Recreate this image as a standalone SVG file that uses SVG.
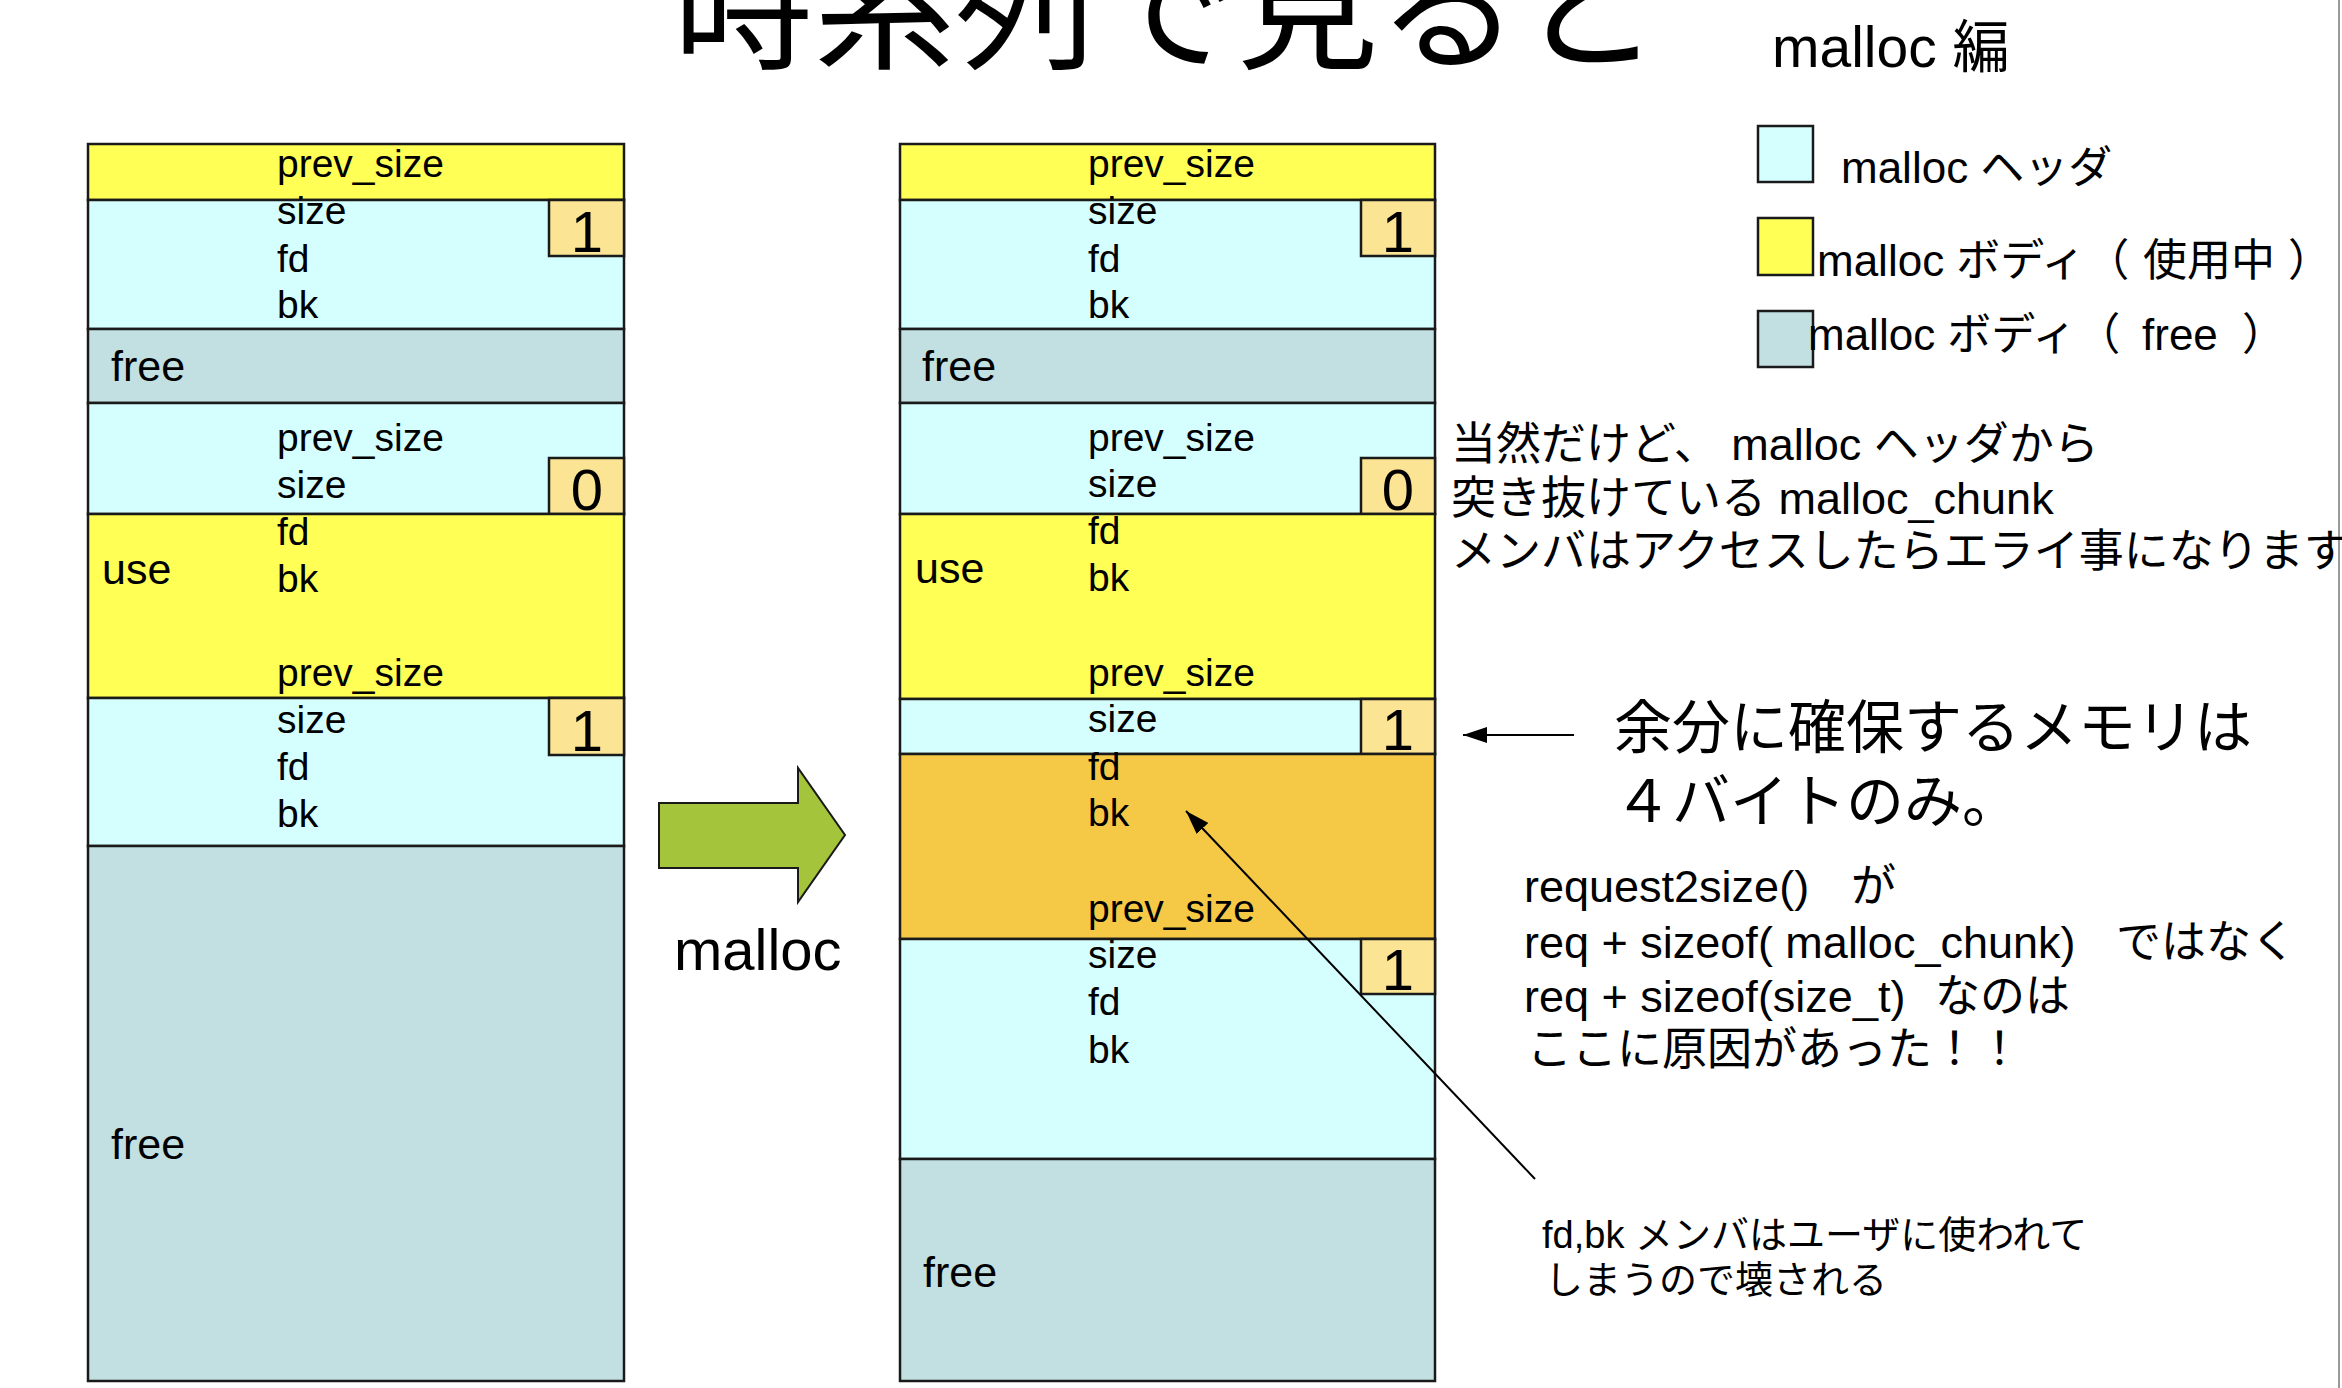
<svg xmlns="http://www.w3.org/2000/svg" width="2342" height="1388" viewBox="0 0 2342 1388">
<defs>
<style>
text{font-family:"Liberation Sans","Noto Sans CJK JP",sans-serif;fill:#000}
.blk{stroke:#1a1a1a;stroke-width:2.5}
.yel{fill:#ffff55}
.cyn{fill:#d5ffff}
.fre{fill:#c2e0e2}
.org{fill:#f5c946}
.bit{fill:#fbe594;stroke:#1a1a1a;stroke-width:2.5}
.lbl{font-size:39px}
.big{font-size:43px}
.dig{font-size:58px;text-anchor:middle}
.note{font-size:45px}
.leg{font-size:44px}
.ln{stroke:#000;stroke-width:2;fill:none}
</style>
<marker id="ah" viewBox="0 0 24 16" refX="24" refY="8" markerWidth="24" markerHeight="16" markerUnits="userSpaceOnUse" orient="auto">
<path d="M0,0 L24,8 L0,16 z" fill="#000"/>
</marker>
</defs>
<rect x="0" y="0" width="2342" height="1388" fill="#fff"/>
<line x1="2339" y1="0" x2="2339" y2="1388" stroke="#9a9a9a" stroke-width="2"/>

<g id="title">
<text x="673" y="58" style="font-size:141px">時系列で見ると</text>
</g>
<g id="subtitle">
<text x="1772" y="67" style="font-size:57px">malloc 編</text>
</g>

<!-- Left column (before malloc) -->
<g id="left-column">
<g id="l-chunk1">
<rect class="yel blk" x="88" y="144" width="536" height="56"/>
<rect class="cyn blk" x="88" y="200" width="536" height="129"/>
<rect class="bit" x="549" y="200" width="75" height="56"/>
<text class="lbl" x="277" y="177">prev_size</text>
<text class="lbl" x="277" y="224">size</text>
<text class="lbl" x="277" y="272">fd</text>
<text class="lbl" x="277" y="318">bk</text>
<text class="dig" x="587" y="252">1</text>
</g>
<g id="l-free1">
<rect class="fre blk" x="88" y="329" width="536" height="74"/>
<text class="big" x="111" y="381">free</text>
</g>
<g id="l-chunk2">
<rect class="cyn blk" x="88" y="403" width="536" height="111"/>
<rect class="bit" x="549" y="458" width="75" height="56"/>
<text class="lbl" x="277" y="451">prev_size</text>
<text class="lbl" x="277" y="498">size</text>
<text class="dig" x="587" y="510">0</text>
</g>
<g id="l-use">
<rect class="yel blk" x="88" y="514" width="536" height="184"/>
<text class="big" x="102" y="584">use</text>
<text class="lbl" x="277" y="545">fd</text>
<text class="lbl" x="277" y="592">bk</text>
<text class="lbl" x="277" y="686">prev_size</text>
</g>
<g id="l-chunk3">
<rect class="cyn blk" x="88" y="698" width="536" height="148"/>
<rect class="bit" x="549" y="698" width="75" height="57"/>
<text class="lbl" x="277" y="733">size</text>
<text class="lbl" x="277" y="780">fd</text>
<text class="lbl" x="277" y="827">bk</text>
<text class="dig" x="587" y="751">1</text>
</g>
<g id="l-free2">
<rect class="fre blk" x="88" y="846" width="536" height="535"/>
<text class="big" x="111" y="1159">free</text>
</g>
</g>

<g id="malloc-arrow">
<path d="M659,803 L798,803 L798,768 L845,835 L798,902 L798,868 L659,868 z" fill="#a3c43b" stroke="#1a1a1a" stroke-width="2"/>
<text x="674" y="970" style="font-size:58px">malloc</text>
</g>

<!-- Right column (after malloc) -->
<g id="right-column">
<g id="r-chunk1">
<rect class="yel blk" x="900" y="144" width="535" height="56"/>
<rect class="cyn blk" x="900" y="200" width="535" height="129"/>
<rect class="bit" x="1361" y="200" width="74" height="56"/>
<text class="lbl" x="1088" y="177">prev_size</text>
<text class="lbl" x="1088" y="224">size</text>
<text class="lbl" x="1088" y="272">fd</text>
<text class="lbl" x="1088" y="318">bk</text>
<text class="dig" x="1398" y="252">1</text>
</g>
<g id="r-free1">
<rect class="fre blk" x="900" y="329" width="535" height="74"/>
<text class="big" x="922" y="381">free</text>
</g>
<g id="r-chunk2">
<rect class="cyn blk" x="900" y="403" width="535" height="111"/>
<rect class="bit" x="1361" y="458" width="74" height="56"/>
<text class="lbl" x="1088" y="451">prev_size</text>
<text class="lbl" x="1088" y="497">size</text>
<text class="dig" x="1398" y="510">0</text>
</g>
<g id="r-use">
<rect class="yel blk" x="900" y="514" width="535" height="185"/>
<text class="big" x="915" y="583">use</text>
<text class="lbl" x="1088" y="544">fd</text>
<text class="lbl" x="1088" y="591">bk</text>
<text class="lbl" x="1088" y="686">prev_size</text>
</g>
<g id="r-chunk3">
<rect class="cyn blk" x="900" y="699" width="535" height="55"/>
<rect class="bit" x="1361" y="699" width="74" height="55"/>
<text class="lbl" x="1088" y="732">size</text>
<text class="dig" x="1398" y="750">1</text>
</g>
<g id="r-new">
<rect class="org blk" x="900" y="754" width="535" height="185"/>
<text class="lbl" x="1088" y="780">fd</text>
<text class="lbl" x="1088" y="826">bk</text>
<text class="lbl" x="1088" y="922">prev_size</text>
</g>
<g id="r-chunk4">
<rect class="cyn blk" x="900" y="939" width="535" height="220"/>
<rect class="bit" x="1361" y="939" width="74" height="55"/>
<text class="lbl" x="1088" y="968">size</text>
<text class="lbl" x="1088" y="1015">fd</text>
<text class="lbl" x="1088" y="1063">bk</text>
<text class="dig" x="1398" y="990">1</text>
</g>
<g id="r-free2">
<rect class="fre blk" x="900" y="1159" width="535" height="222"/>
<text class="big" x="923" y="1287">free</text>
</g>
</g>

<!-- Legend -->
<g id="legend">
<g id="leg-header">
<rect class="cyn blk" x="1758" y="126" width="55" height="56"/>
<text class="leg" x="1841" y="183">malloc ヘッダ</text>
</g>
<g id="leg-used">
<rect class="yel blk" x="1758" y="218" width="55" height="57"/>
<text class="leg" x="1817" y="276">malloc ボディ（<tspan x="2143">使用中</tspan><tspan x="2288">）</tspan></text>
</g>
<g id="leg-free">
<rect class="fre blk" x="1758" y="311" width="55" height="56"/>
<text class="leg" x="1808" y="350">malloc ボディ（<tspan x="2142">free</tspan><tspan x="2242">）</tspan></text>
</g>
</g>

<!-- Notes -->
<g id="note1">
<text class="note" x="1451" y="460">当然だけど、 malloc ヘッダから</text>
<text class="note" x="1451" y="514">突き抜けている malloc_chunk</text>
<text class="note" x="1451" y="567">メンバはアクセスしたらエライ事になります</text>
</g>
<g id="note2">
<text x="1614" y="748" style="font-size:58px">余分に確保するメモリは</text>
<text x="1614" y="822" style="font-size:58px">４バイトのみ。</text>
</g>
<g id="note3">
<text class="note" x="1524" y="902">request2size()<tspan x="1851">が</tspan></text>
<text class="note" x="1524" y="958">req + sizeof( malloc_chunk)<tspan x="2116">ではなく</tspan></text>
<text class="note" x="1524" y="1012">req + sizeof(size_t)<tspan x="1935">なのは</tspan></text>
<text class="note" x="1527" y="1065">ここに原因があった！！</text>
</g>
<g id="note4">
<text x="1542" y="1248" style="font-size:38px">fd,bk メンバはユーザに使われて</text>
<text x="1545" y="1293" style="font-size:38px">しまうので壊される</text>
</g>

<g id="connectors">
<line class="ln" x1="1574" y1="735" x2="1463" y2="735" marker-end="url(#ah)"/>
<line class="ln" x1="1535" y1="1179" x2="1186" y2="811" marker-end="url(#ah)"/>
</g>
</svg>
